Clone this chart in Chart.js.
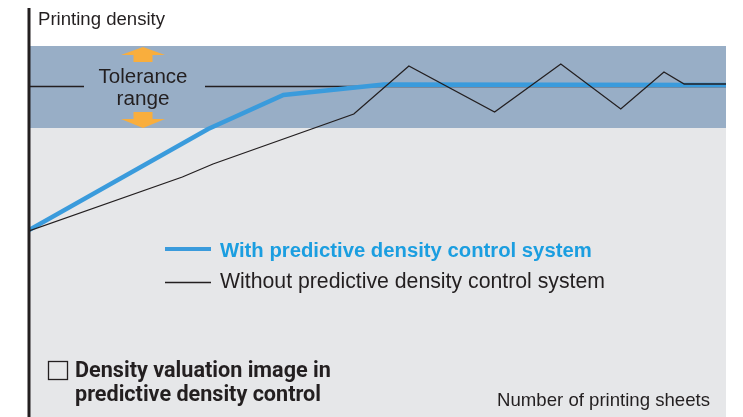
<!DOCTYPE html>
<html>
<head>
<meta charset="utf-8">
<script src="https://cdn.jsdelivr.net/npm/chart.js@4.4.1/dist/chart.umd.min.js"></script>
<style>
  html, body { margin: 0; padding: 0; background: #fff; }
  #wrap { width: 743px; height: 417px; }
</style>
</head>
<body>
<div id="wrap"><canvas id="myChart" width="743" height="417"></canvas></div>
<script>
// dados (x = folhas impressas 0-100, y = densidade 0-100)
const withX = [0, 25.7, 36.5, 50.9, 100];
const withY = [46.75, 72, 80.5, 83.1, 83];
const withoutX = [0, 22, 26.4, 46.6, 54.5, 66.8, 76.3, 84.9, 91.1, 94, 100];
const withoutY = [46.5, 60, 63.25, 75.75, 87.75, 76.25, 88.25, 77, 86.25, 83.25, 83.25];
const toleranceLow = 72.25;
const toleranceHigh = 92.75;
const target = 82.75;

const labelWith = 'With predictive density control system';
const labelWithout = 'Without predictive density control system';

const azul = '#3a9bdc';
const preto = '#231f20';
const fonte = '"Liberation Sans", Arial, sans-serif';
const fonteNota = 'Roboto, sans-serif';

function pontos(xs, ys) {
    return xs.map((x, i) => ({ x: x, y: ys[i] }));
}

// escreve o texto ajustando o tamanho da fonte à largura desejada
function textoAjustado(ctx, texto, x, y, largura, peso, familia) {
    const fam = familia || fonte;
    ctx.font = peso + ' 20px ' + fam;
    const tam = 20 * largura / ctx.measureText(texto).width;
    ctx.font = peso + ' ' + tam.toFixed(2) + 'px ' + fam;
    ctx.fillText(texto, x, y);
}

// fundo cinza + faixa de tolerância
const fundoPlugin = {
    id: 'fundo',
    beforeDatasetsDraw(chart) {
        const { ctx, chartArea, scales } = chart;
        const yHigh = scales.y.getPixelForValue(toleranceHigh);
        const yLow = scales.y.getPixelForValue(toleranceLow);
        ctx.save();
        ctx.fillStyle = '#e6e7e9';
        ctx.fillRect(chartArea.left, yLow, chartArea.right - chartArea.left, chartArea.bottom - yLow);
        ctx.fillStyle = '#98aec6';
        ctx.fillRect(chartArea.left, yHigh, chartArea.right - chartArea.left, yLow - yHigh);

        // linha alvo, com espaço para o texto
        const yT = Math.round(scales.y.getPixelForValue(target)) + 0.5;
        ctx.strokeStyle = preto;
        ctx.lineWidth = 1.3;
        ctx.beginPath();
        ctx.moveTo(chartArea.left, yT);
        ctx.lineTo(84, yT);
        ctx.moveTo(205, yT);
        ctx.lineTo(chartArea.right, yT);
        ctx.stroke();

        // setas laranja
        const cx = 143;
        ctx.fillStyle = '#f9ae3d';
        ctx.beginPath();
        ctx.moveTo(cx, yHigh + 1);
        ctx.lineTo(cx + 22, yHigh + 9);
        ctx.lineTo(cx + 9.5, yHigh + 9);
        ctx.lineTo(cx + 9.5, yHigh + 16);
        ctx.lineTo(cx - 9.5, yHigh + 16);
        ctx.lineTo(cx - 9.5, yHigh + 9);
        ctx.lineTo(cx - 22, yHigh + 9);
        ctx.closePath();
        ctx.fill();
        ctx.beginPath();
        ctx.moveTo(cx, yLow);
        ctx.lineTo(cx + 22, yLow - 9);
        ctx.lineTo(cx + 9.5, yLow - 9);
        ctx.lineTo(cx + 9.5, yLow - 16);
        ctx.lineTo(cx - 9.5, yLow - 16);
        ctx.lineTo(cx - 9.5, yLow - 9);
        ctx.lineTo(cx - 22, yLow - 9);
        ctx.closePath();
        ctx.fill();
        ctx.restore();
    }
};

// eixo vertical, legenda e textos
const textoPlugin = {
    id: 'texto',
    afterDraw(chart) {
        const { ctx, chartArea } = chart;
        ctx.save();
        ctx.strokeStyle = preto;
        ctx.lineWidth = 3;
        ctx.beginPath();
        ctx.moveTo(chartArea.left, 8);
        ctx.lineTo(chartArea.left, 417);
        ctx.stroke();

        ctx.fillStyle = preto;
        ctx.textBaseline = 'alphabetic';
        textoAjustado(ctx, 'Printing density', 38, 25, 127, 'normal');

        ctx.textAlign = 'center';
        textoAjustado(ctx, 'Tolerance', 143, 83, 89, 'normal');
        textoAjustado(ctx, 'range', 143, 105, 53, 'normal');

        // legenda
        ctx.textAlign = 'left';
        ctx.strokeStyle = azul;
        ctx.lineWidth = 4;
        ctx.beginPath();
        ctx.moveTo(165, 249);
        ctx.lineTo(211, 249);
        ctx.stroke();
        ctx.strokeStyle = preto;
        ctx.lineWidth = 1.3;
        ctx.beginPath();
        ctx.moveTo(165, 282.5);
        ctx.lineTo(211, 282.5);
        ctx.stroke();
        ctx.fillStyle = '#1b9ee0';
        textoAjustado(ctx, labelWith, 220, 257, 372, 'bold');
        ctx.fillStyle = preto;
        textoAjustado(ctx, labelWithout, 220, 288, 385, 'normal');

        // caixa e nota
        ctx.lineWidth = 1.3;
        ctx.strokeRect(48.5, 361.5, 19, 18);
        textoAjustado(ctx, 'Density valuation image in', 75, 377, 256, 'bold', fonteNota);
        textoAjustado(ctx, 'predictive density control', 75, 401, 246, 'bold', fonteNota);

        ctx.textAlign = 'right';
        textoAjustado(ctx, 'Number of printing sheets', 710, 406, 213, 'normal');
        ctx.restore();
    }
};

const config = {
    type: 'line',
    data: {
        datasets: [
            {
                label: labelWithout,
                data: pontos(withoutX, withoutY),
                borderColor: preto,
                borderWidth: 1.3,
                pointRadius: 0,
                tension: 0,
                order: 1
            },
            {
                label: labelWith,
                data: pontos(withX, withY),
                borderColor: azul,
                borderWidth: 4.5,
                pointRadius: 0,
                tension: 0,
                order: 2
            }
        ]
    },
    options: {
        responsive: false,
        animation: false,
        layout: { padding: { left: 29, right: 17, top: 17, bottom: 0 } },
        scales: {
            x: { type: 'linear', min: 0, max: 100, display: false },
            y: { type: 'linear', min: 0, max: 100, display: false }
        },
        plugins: {
            legend: { display: false },
            tooltip: { enabled: false }
        }
    },
    plugins: [fundoPlugin, textoPlugin]
};

const ctx = document.getElementById('myChart');
const myChart = new Chart(ctx, config);
</script>
</body>
</html>
